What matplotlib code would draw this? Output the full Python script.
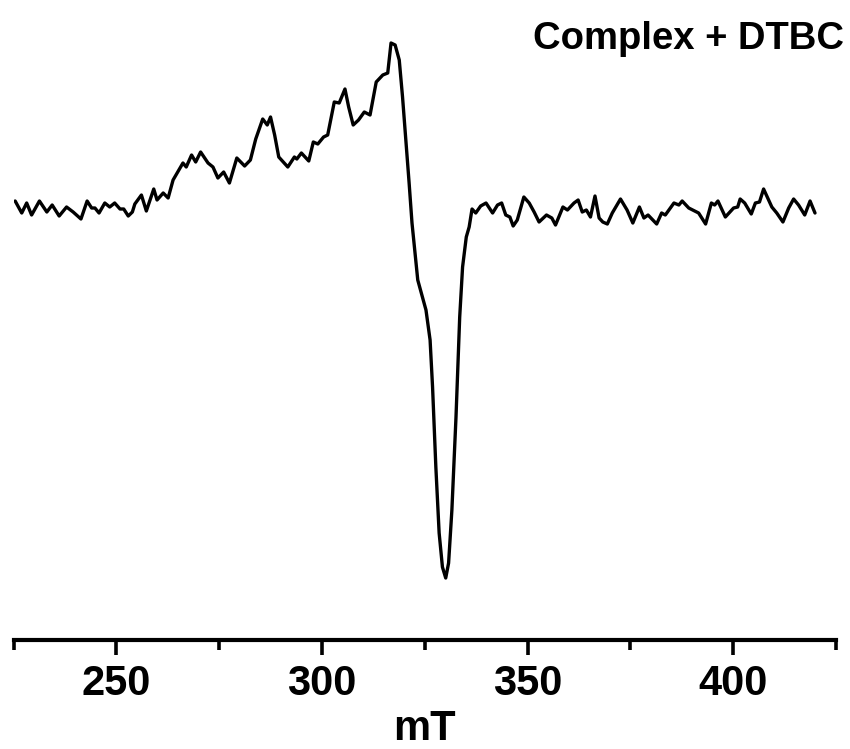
import matplotlib
matplotlib.use("Agg")
import matplotlib.pyplot as plt
from matplotlib.ticker import MultipleLocator

# EPR spectrum, field in mT, intensity in arbitrary units
field = [
    225.4, 227.0, 228.2, 229.4, 231.3, 233.1, 234.4, 236.1, 237.9, 239.5,
    241.4, 242.9, 244.0, 244.8, 245.8, 247.2, 248.4, 249.6, 250.9, 251.8,
    252.9, 253.9, 254.5, 256.1, 257.3, 259.1, 259.9, 261.4, 262.6, 263.8,
    266.2, 267.0, 268.3, 269.3, 270.5, 272.3, 273.5, 274.7, 276.1, 277.5,
    279.3, 281.2, 282.6, 283.9, 285.6, 286.7, 287.5, 288.5, 289.5, 291.7,
    293.3, 293.9, 295.0, 296.8, 297.9, 299.0, 300.4, 301.4, 303.0, 304.2,
    305.6, 306.5, 307.6, 308.9, 310.3, 311.7, 313.2, 314.8, 316.0, 316.8,
    317.8, 318.8, 319.6, 320.4, 321.2, 321.9, 323.3, 325.3, 326.3, 326.9,
    327.7, 328.5, 329.3, 330.1, 330.8, 331.6, 332.6, 333.5, 334.2, 335.1,
    335.8, 336.5, 337.4, 338.6, 339.9, 341.5, 342.7, 343.7, 344.7, 345.7,
    346.5, 347.5, 349.1, 350.4, 351.6, 352.8, 354.6, 355.9, 356.8, 358.6,
    359.7, 361.3, 362.3, 363.3, 364.3, 365.3, 366.4, 367.4, 368.3, 369.4,
    370.6, 372.6, 374.2, 375.6, 377.2, 378.3, 379.3, 381.4, 382.6, 383.5,
    385.6, 386.8, 387.6, 389.2, 391.6, 393.3, 394.7, 395.5, 396.3, 398.1,
    400.1, 401.1, 401.7, 402.8, 404.4, 405.4, 406.4, 407.4, 409.4, 410.6,
    412.1, 413.5, 414.7, 415.9, 417.4, 418.7, 419.9,
]
intensity = [
    7, -5, 5, -7, 7, -4, 3, -8, 1, -4,
    -11, 7, 0, 0, -5, 5, 1, 5, -1, -1,
    -8, -4, 4, 13, -3, 19, 8, 15, 10, 28,
    45, 41, 53, 46, 56, 45, 41, 30, 36, 25,
    50, 42, 48, 69, 89, 83, 91, 73, 51, 41,
    51, 49, 55, 47, 66, 64, 71, 73, 106, 105,
    119, 101, 83, 88, 96, 93, 126, 133, 135, 165,
    163, 148, 111, 68, 25, -15, -72, -102, -132, -179,
    -259, -325, -359, -370, -355, -302, -209, -109, -59, -29,
    -19, -1, -5, 2, 5, -5, 3, 5, -7, -9,
    -18, -12, 11, 5, -4, -14, -7, -10, -17, 1,
    -2, 5, 8, -4, -2, -9, 12, -10, -14, -16,
    -5, 9, -2, -15, 1, -10, -7, -16, -5, -7,
    5, 3, 7, 0, -5, -16, 5, 3, 7, -9,
    0, 1, 9, 5, -6, 5, 6, 19, 1, -5,
    -14, 0, 9, 3, -7, 7, -5,
]

x_ticks = [250, 300, 350, 400]
title = "Complex + DTBC"
x_label = "mT"

plt.rcParams["font.family"] = ["Liberation Sans", "DejaVu Sans"]
plt.rcParams["font.weight"] = "bold"

fig = plt.figure(figsize=(8.5, 7.49), dpi=100)
ax = fig.add_axes([0.0159, 0.1455, 0.9676, 0.8278])

ax.plot(field, intensity, color="black", linewidth=2.4,
        solid_joinstyle="round", solid_capstyle="round")

ax.set_xlim(225, 425)
ax.set_ylim(-432, 188)

for side in ("top", "right", "left"):
    ax.spines[side].set_visible(False)
ax.spines["bottom"].set_linewidth(3)
ax.yaxis.set_visible(False)

ax.set_xticks(x_ticks)
ax.xaxis.set_minor_locator(MultipleLocator(50, offset=25))
ax.tick_params(axis="x", which="major", length=11, width=2.6, pad=6,
               labelsize=30)
ax.tick_params(axis="x", which="minor", length=7, width=2.6)
for lbl in ax.get_xticklabels():
    lbl.set_fontweight("bold")

ax.set_xlabel(x_label, fontsize=30, fontweight="bold", labelpad=4)

fig.text(0.993, 0.934, title, ha="right", va="baseline",
         fontsize=27.5, fontweight="bold")

fig.savefig("out.png", dpi=100)
